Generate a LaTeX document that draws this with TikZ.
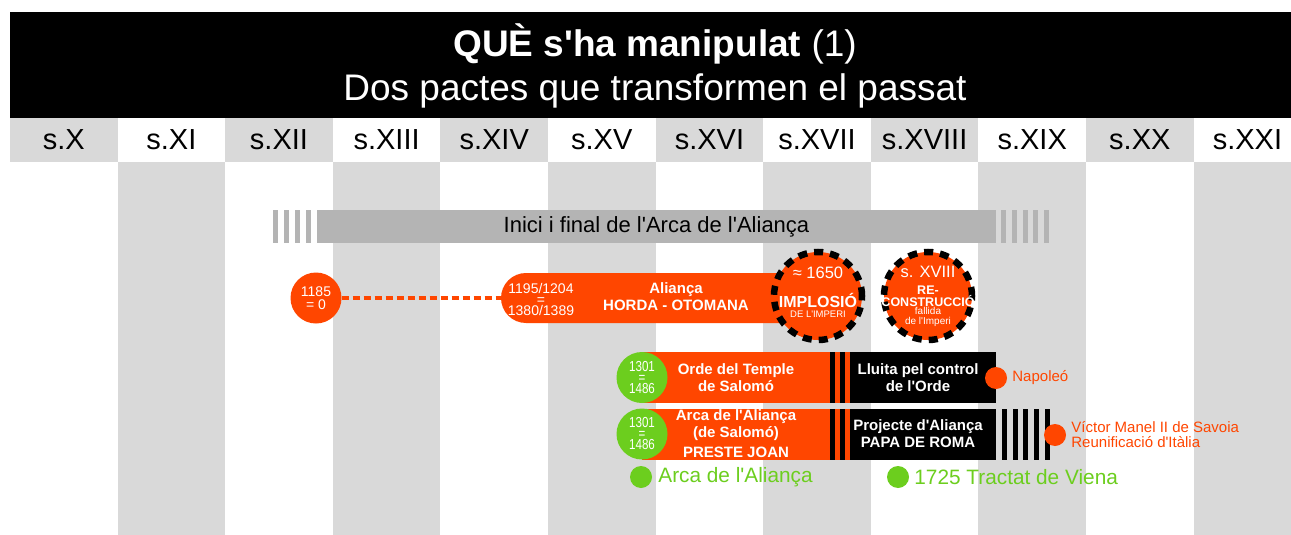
\documentclass[tikz,border=0pt]{standalone}
\usepackage{fontspec}
\setmainfont{Liberation Sans}[Ligatures=TeXOff]
\newfontfamily\estret{Liberation Sans}[FakeStretch=0.8, Ligatures=TeXOff]
\usetikzlibrary{positioning}
\definecolor{roig}{RGB}{255,70,0}
\definecolor{verd}{RGB}{108,206,30}
\definecolor{grisclar}{RGB}{217,217,217}
\definecolor{grisfosc}{RGB}{180,180,180}

\begin{document}
\begin{tikzpicture}[x=1pt, y=-1pt,
  segle/.style={font=\fontsize{29}{29}\selectfont, inner sep=0pt},
  blanc/.style={text=white, align=center, inner sep=0pt},
  negreta/.style={blanc, font=\fontsize{15}{17}\selectfont\bfseries},
  xifres/.style={blanc, font=\fontsize{14}{11}\selectfont},
  franja/.style={minimum height=51pt, inner sep=0pt},
  estrella/.style={circle, fill=roig, draw=black, line width=6.5pt, dash pattern=on 9pt off 7pt, minimum size=88pt, inner sep=0pt},
  punt/.style={circle, fill=#1, minimum size=22pt, inner sep=0pt},
  datacercle/.style={circle, fill=#1, minimum size=51pt, xifres, font=\estret\fontsize{14.5}{11}\selectfont},
  etiqroja/.style={text=roig, font=\fontsize{15}{15}\selectfont, inner sep=0pt, align=left},
  etiqverda/.style={text=verd, font=\fontsize{20.8}{20.8}\selectfont, inner sep=0pt}]
 \useasboundingbox (0,0) rectangle (1291,535);
 \fill[white] (0,0) rectangle (1291,535);
 % segles
 \foreach \s [count=\i from 0] in {X,XI,XII,XIII,XIV,XV,XVI,XVII,XVIII,XIX,XX,XXI}
 {
     \pgfmathsetmacro{\xa}{10+\i*107.6}
     \ifodd\i\relax
         \fill[grisclar] (\xa,162) rectangle ++(107.6,373);
     \else
         \fill[grisclar] (\xa,118) rectangle ++(107.6,44);
     \fi
     \node[segle] (s\s) at (\xa+53.8,140) {s.\s};
 }
 % capcalera
 \fill[black] (10,12) rectangle (1291,118);
 \node[text=white, font=\fontsize{37}{37}\selectfont, anchor=base, inner sep=0pt] (titol) at (655,57) {\textbf{QUÈ s'ha manipulat} (1)};
 \node[text=white, font=\fontsize{37}{37}\selectfont, anchor=base, inner sep=0pt] (subtitol) at (655,100) {Dos pactes que transformen el passat};
 % barra grisa
 \node[fill=grisfosc, minimum width=679pt, minimum height=33pt, inner sep=0pt, font=\fontsize{22}{22}\selectfont] (arca) at (656.5,226.5) {Inici i final de l'Arca de l'Aliança};
 \foreach \x in {273,284,295,306}
     \fill[grisfosc] (\x,210) rectangle ++(5,33);
 \foreach \x in {1001,1012,1023,1033,1044}
     \fill[grisfosc] (\x,210) rectangle ++(5,33);
 % alianca horda - otomana
 \node[circle, fill=roig, minimum size=51pt, blanc, font=\fontsize{14}{13}\selectfont] (c1185) at (316,298) {1185\\= 0};
 \node[fill=roig, rounded corners=25pt, minimum width=304pt, minimum height=50pt, inner sep=0pt] (alianca) at (653,298) {};
 \draw[roig, line width=4pt, dash pattern=on 7pt off 4pt] (c1185) -- (alianca.west);
 \node[xifres] (dates) at (541,299) {1195/1204\\=\\1380/1389};
 \node[negreta] (horda) at (676,297) {Aliança\\HORDA - OTOMANA};
 \node[estrella] (implosio) at (818,296) {};
 \node[blanc, font=\fontsize{16.5}{16.5}\selectfont] (any1650) at (818,273) {≈ 1650};
 \node[blanc, font=\fontsize{16}{16}\selectfont\bfseries] (imp) at (818,300) {IMPLOSIÓ};
 \node[blanc, font=\fontsize{9.5}{9.5}\selectfont] (imperi) at (818,314) {DE L'IMPERI};
 \node[estrella] (recons) at (928,296) {};
 \node[blanc, font=\fontsize{16.5}{16.5}\selectfont] (sxviii) at (928,272) {s. XVIII};
 \node[blanc, font=\fontsize{12.5}{12.5}\selectfont\bfseries] (re) at (928,290) {RE-};
 \node[blanc, font=\fontsize{12.5}{12.5}\selectfont\bfseries] (constr) at (928,301) {CONSTRUCCIÓ};
 \node[blanc, font=\fontsize{10}{10}\selectfont] (fallida) at (928,311) {fallida};
 \node[blanc, font=\fontsize{10}{10}\selectfont] (deimp) at (928,322) {de l'Imperi};
 % orde del temple
 \node[franja, fill=roig, minimum width=188pt, negreta] (temple) at (736,377.5) {Orde del Temple\\de Salomó};
 \node[franja, fill=black, minimum width=156pt, negreta] (lluita) at (918,377.5) {Lluita pel control\\de l'Orde};
 \fill[black] (830,352) rectangle ++(5,51);
 \fill[roig] (835,352) rectangle ++(5,51);
 \fill[roig] (845,352) rectangle ++(5,51);
 \node[datacercle=verd] (g1) at (642,377.5) {1301\\=\\1486};
 \node[punt=roig] (napoleo) at (996,378) {};
 \node[etiqroja, right=5pt of napoleo] (napotxt) {Napoleó};
 % arca de l'alianca
 \node[franja, fill=roig, minimum width=188pt, negreta] (preste) at (736,434) {Arca de l'Aliança\\(de Salomó)\\[3pt]PRESTE JOAN};
 \node[franja, fill=black, minimum width=156pt, negreta] (papa) at (918,434) {Projecte d'Aliança\\PAPA DE ROMA};
 \fill[black] (830,408.5) rectangle ++(5,51);
 \fill[roig] (835,408.5) rectangle ++(5,51);
 \fill[roig] (845,408.5) rectangle ++(5,51);
 \foreach \x in {1002,1013,1023,1034,1045}
     \fill[black] (\x,408.5) rectangle ++(5,51);
 \node[datacercle=verd] (g2) at (642,434) {1301\\=\\1486};
 \node[punt=roig] (victor) at (1055,435) {};
 \node[etiqroja, right=5pt of victor] (victortxt) {Víctor Manel II de Savoia\\Reunificació d'Itàlia};
 % llegenda
 \node[punt=verd] (parca) at (641,477) {};
 \node[etiqverda, right=6pt of parca] (arcatxt) {Arca de l'Aliança};
 \node[punt=verd] (pviena) at (898,477) {};
 \node[etiqverda, right=5pt of pviena] (vienatxt) {1725 Tractat de Viena};
\end{tikzpicture}
\end{document}
